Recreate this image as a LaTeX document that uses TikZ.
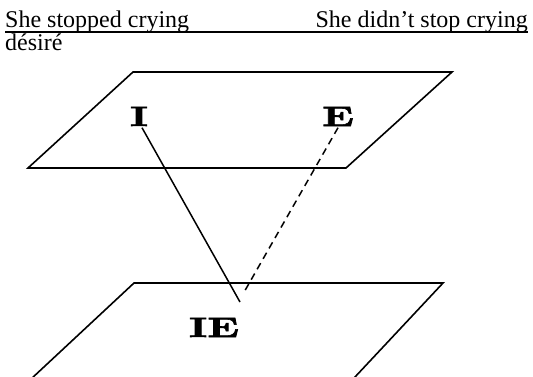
\documentclass[tikz,border=0pt]{standalone}
\usepackage{fontspec}
\newfontfamily\tnr{Liberation Serif}
\newfontfamily\labfont{lmroman10-bold}[Extension=.otf, FakeBold=2]
\tikzset{
  plane/.style={line width=1.6pt, line join=miter},
  txt/.style={inner sep=0pt, anchor=base west, font=\tnr\fontsize{24}{28}\selectfont},
  lab/.style={inner sep=1.5pt, anchor=base, font=\labfont\fontsize{28}{30}\selectfont},
  link/.style={line width=1.5pt},
  dlink/.style={line width=1.5pt, dash pattern=on 7pt off 5pt}
}
\begin{document}
\begin{tikzpicture}[x=1pt,y=-1pt]
\useasboundingbox (0,0) rectangle (533,376);
% header
\node[txt] (s1) at (5,27) {She stopped crying};
\node[txt, anchor=base east] (s2) at (528,27) {She didn’t stop crying};
\draw[line width=1.5pt] (5,32) -- (528,32);
\node[txt] (d) at (5,50) {désiré};
% upper plane
\draw[plane] (133,72) -- (452,72) -- (346,168) -- (28,168) -- cycle;
% lower plane (cut by the page edge)
\begin{scope}
\clip (0,0) rectangle (533,376);
\draw[plane] (134,283) -- (443,283) -- (340,393) -- (16,393) -- cycle;
\end{scope}
% labels
\node[lab] (I) at (139,126) {\scalebox{1.5}[1]{I}};
\node[lab] (E) at (338,126) {\scalebox{1.5}[1]{E}};
\node[lab] (IE) at (214,337) {\scalebox{1.5}[1]{IE}};
\coordinate (pI) at (240,302);
\coordinate (pE) at (243,294);
\draw[link] ([xshift=3pt]I.south) -- (pI);
\draw[dlink] (E.south) -- (pE);
\end{tikzpicture}
\end{document}
